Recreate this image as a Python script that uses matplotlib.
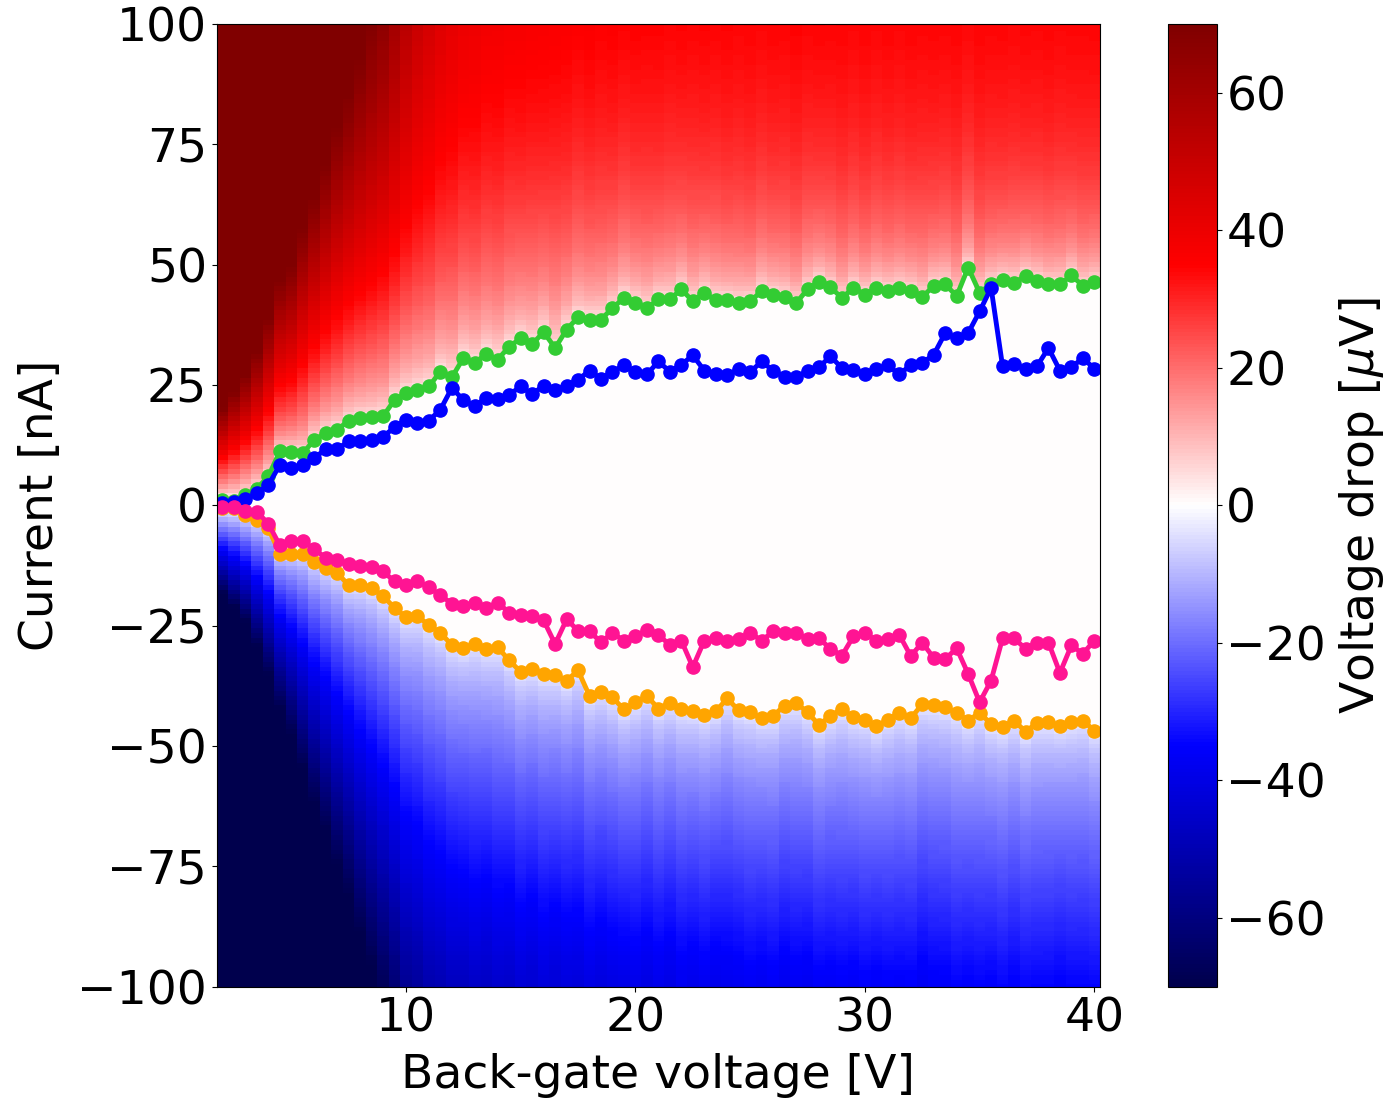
import numpy as np
import matplotlib
matplotlib.use("Agg")
import matplotlib.pyplot as plt

# Back-gate voltage [V]
vg = np.arange(2.0, 40.01, 0.5)

# Switching current, positive branch (green) [nA]
ic_pos = [1.1, 1.0, 2.2, 3.5, 6.0, 11.2, 11.0, 10.8, 13.6, 15.0,
          15.7, 17.6, 18.1, 18.3, 18.5, 21.9, 23.3, 24.0, 24.7, 27.8,
          26.6, 30.6, 29.6, 31.5, 30.3, 33.0, 34.7, 33.5, 36.0, 32.7,
          36.5, 39.1, 38.6, 38.6, 41.0, 43.1, 42.1, 41.0, 42.8, 42.8,
          44.9, 42.4, 44.2, 42.6, 42.6, 42.1, 42.4, 44.5, 43.7, 43.2,
          42.0, 44.9, 46.5, 45.3, 43.1, 45.2, 43.8, 45.2, 44.6, 45.1,
          44.6, 43.3, 45.6, 45.9, 43.5, 49.4, 44.2, 46.0, 46.8, 46.3,
          47.6, 46.6, 45.9, 45.9, 47.8, 45.6, 46.5]

# Retrapping current, positive branch (blue) [nA]
ir_pos = [0.4, 0.8, 1.3, 2.5, 4.2, 8.4, 7.8, 8.3, 9.8, 11.7,
          11.7, 13.3, 13.3, 13.6, 14.3, 16.2, 17.8, 17.1, 17.6, 19.9,
          24.4, 21.9, 20.6, 22.4, 22.1, 23.0, 24.7, 23.1, 24.9, 24.0,
          24.9, 26.1, 28.0, 26.3, 27.8, 29.1, 27.7, 27.2, 29.9, 27.8,
          29.2, 31.2, 28.0, 27.3, 27.0, 28.4, 27.7, 29.9, 28.0, 26.7,
          26.6, 28.0, 28.7, 31.0, 28.5, 28.2, 27.3, 28.4, 29.1, 27.2,
          29.2, 29.6, 31.3, 35.8, 34.7, 35.8, 40.3, 45.2, 28.9, 29.4,
          28.4, 28.9, 32.7, 28.0, 28.7, 30.6, 28.4]

# Retrapping current, negative branch (magenta) [nA]
ir_neg = [-0.3, -0.3, -1.2, -1.3, -3.8, -8.3, -7.4, -7.4, -9.1, -10.9,
          -11.4, -12.1, -12.6, -12.8, -13.7, -15.8, -16.5, -15.8, -17.0, -18.7,
          -20.4, -20.9, -20.2, -21.3, -20.2, -22.3, -22.8, -23.0, -23.9, -28.8,
          -23.7, -26.0, -26.2, -28.4, -26.5, -28.1, -27.2, -25.8, -26.9, -29.0,
          -28.1, -33.6, -28.1, -27.6, -28.1, -27.7, -26.5, -28.1, -26.2, -26.5,
          -26.5, -27.7, -27.6, -29.8, -31.2, -27.2, -26.5, -28.1, -27.8, -26.9,
          -31.3, -28.5, -31.7, -31.9, -29.7, -35.0, -40.9, -36.4, -27.6, -27.6,
          -29.8, -28.5, -28.5, -34.8, -29.1, -30.8, -28.1]

# Switching current, negative branch (orange) [nA]
ic_neg = [-0.5, -0.5, -2.0, -3.1, -4.8, -10.0, -10.0, -10.0, -11.7, -13.1,
          -14.0, -16.6, -16.6, -17.2, -18.8, -21.3, -23.2, -23.0, -24.9, -26.5,
          -29.0, -29.7, -28.8, -29.9, -29.5, -32.2, -34.6, -34.0, -35.0, -35.2,
          -36.4, -34.3, -39.6, -38.7, -39.9, -42.4, -40.9, -39.6, -42.2, -41.0,
          -42.3, -42.8, -43.5, -42.8, -40.1, -42.6, -43.0, -44.2, -43.7, -41.6,
          -41.0, -43.0, -45.6, -43.7, -42.3, -44.0, -44.5, -45.9, -44.5, -43.1,
          -44.2, -41.3, -41.5, -41.9, -43.1, -44.7, -43.1, -45.4, -46.1, -44.7,
          -47.0, -45.2, -45.1, -45.8, -45.1, -44.7, -46.8]

# Heat-map shape per gate-voltage column, estimated from the colours:
# initial slope above switching [uV/nA] and saturation level [uV], positive side
r_pos = [3.6, 3.1, 2.7, 2.3, 1.9, 1.6, 1.5, 1.3, 1.18, 1.08,
         1.0, 0.95, 0.90, 0.86, 0.82, 0.78, 0.72, 0.68, 0.66, 0.63,
         0.62, 0.60, 0.61, 0.59, 0.60, 0.58, 0.60, 0.58, 0.60, 0.58,
         0.60, 0.58, 0.60, 0.59, 0.61, 0.59, 0.61, 0.60, 0.62, 0.60,
         0.62, 0.61, 0.63, 0.61, 0.63, 0.62, 0.64, 0.62, 0.64, 0.63,
         0.65, 0.63, 0.65, 0.64, 0.66, 0.64, 0.66, 0.64, 0.66, 0.64,
         0.66, 0.64, 0.66, 0.65, 0.66, 0.64, 0.66, 0.65, 0.66, 0.64,
         0.66, 0.65, 0.66, 0.64, 0.66, 0.65, 0.66]
vs_pos = [200, 200, 200, 200, 200, 200, 200, 190, 180, 160,
          135, 122, 110, 100, 95, 82, 72, 64, 58, 54,
          50, 48, 46, 45, 44, 44, 43, 43, 42, 42,
          41, 41, 41, 40, 40, 40, 39.5, 39.5, 39, 39,
          39, 38.5, 38.5, 38.5, 38.5, 38, 38, 38, 38, 38,
          38, 38, 38, 38, 37.5, 37.5, 37.5, 37.5, 37.5, 37.5,
          37.5, 37.5, 37.5, 37.5, 37.5, 37.5, 37.5, 37.5, 37.5, 37.5,
          37.5, 37.5, 37.5, 37.5, 37.5, 37.5, 37.5]
# slope below the negative switching current [uV/nA]
r_neg = [3.8, 3.3, 2.9, 2.4, 2.0, 1.7, 1.5, 1.3, 1.15, 1.05,
         0.95, 0.88, 0.80, 0.74, 0.69, 0.64, 0.58, 0.56, 0.53, 0.52,
         0.50, 0.50, 0.48, 0.49, 0.47, 0.48, 0.46, 0.47, 0.45, 0.46,
         0.45, 0.45, 0.44, 0.45, 0.44, 0.44, 0.43, 0.44, 0.43, 0.44,
         0.42, 0.43, 0.42, 0.43, 0.42, 0.42, 0.41, 0.42, 0.41, 0.42,
         0.41, 0.42, 0.41, 0.41, 0.40, 0.41, 0.40, 0.41, 0.40, 0.40,
         0.40, 0.41, 0.40, 0.40, 0.39, 0.40, 0.39, 0.40, 0.39, 0.40,
         0.39, 0.39, 0.39, 0.40, 0.39, 0.39, 0.39]

current = np.arange(-100.0, 100.01, 1.0)

I = current[:, None]
icp = np.array(ic_pos)[None, :]
icn = np.abs(np.array(ic_neg))[None, :]
rp = np.array(r_pos)[None, :]
vsp = np.array(vs_pos)[None, :]
rn = np.array(r_neg)[None, :]
sp = np.sqrt(np.clip(I**2 - icp**2, 0, None))
sn = np.sqrt(np.clip(I**2 - icn**2, 0, None))
V = np.zeros((current.size, vg.size))
V = np.where(I > icp, vsp * np.tanh(rp * sp / vsp), V)
V = np.where(I < -icn, -rn * sn, V)

fig = plt.figure(figsize=(13.89, 11.02), dpi=100)
ax = fig.add_axes([0.156, 0.1046, 0.636, 0.8736])
cax = fig.add_axes([0.8411, 0.1046, 0.0348, 0.8736])

mesh = ax.pcolormesh(vg, current, V, cmap="seismic", vmin=-70, vmax=70,
                     shading="nearest", rasterized=True)

lw = 3.5
ms = 9.5
ax.plot(vg, ic_pos, "-o", color="#33cc33", lw=lw, ms=ms)
ax.plot(vg, ir_pos, "-o", color="#0000ff", lw=lw, ms=ms)
ax.plot(vg, ic_neg, "-o", color="#ffa500", lw=lw, ms=ms)
ax.plot(vg, ir_neg, "-o", color="#ff1493", lw=lw, ms=ms)

ax.set_xlim(1.75, 40.25)
ax.set_ylim(-100, 100)
ax.set_xticks([10, 20, 30, 40])
ax.set_yticks([-100, -75, -50, -25, 0, 25, 50, 75, 100])
fs = 34
ax.tick_params(labelsize=fs)
ax.set_xlabel("Back-gate voltage [V]", fontsize=fs, labelpad=8)
ax.set_ylabel("Current [nA]", fontsize=fs, labelpad=10)

cb = fig.colorbar(mesh, cax=cax)
cb.set_ticks([-60, -40, -20, 0, 20, 40, 60])
cb.ax.tick_params(labelsize=fs)
cb.set_label(r"Voltage drop [$\mu$V]", fontsize=fs, labelpad=8)

fig.savefig("out.png", dpi=100)
